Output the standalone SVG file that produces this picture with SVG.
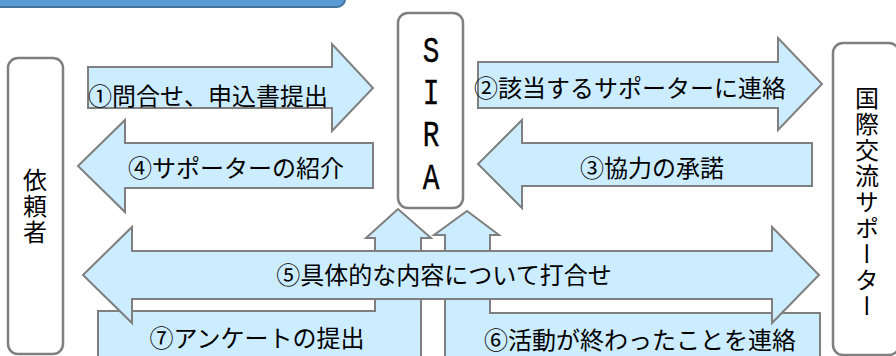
<svg xmlns="http://www.w3.org/2000/svg" width="896" height="356" viewBox="0 0 896 356">
<style>
.node{fill:#ffffff;stroke:#7f7f7f;stroke-width:2.5}
.arrow{fill:#ccecff;stroke:#7f7f7f;stroke-width:2;stroke-linejoin:miter}
.lbl{font-family:"Noto Sans CJK JP","Noto Sans",sans-serif;font-size:24px;font-weight:400;fill:#000000;text-anchor:middle}
.vt{font-family:"Noto Sans CJK JP","Noto Sans",sans-serif;font-size:24px;font-weight:400;fill:#000000;writing-mode:vertical-rl;letter-spacing:2px}
.sira{font-family:"Liberation Mono","Courier New",monospace;font-size:37px;fill:#000000;stroke:#000000;stroke-width:0.4;text-anchor:middle}
</style>
<rect x="-10" y="-20" width="355" height="27" rx="8" fill="#5b9bd5" stroke="#41719c" stroke-width="2"/>
<g id="connectors">
  <g id="c1"><polygon class="arrow" points="88,67 332,67 332,44 373,88 332,131 332,108 88,108"/><text class="lbl" x="208" y="105">①問合せ、申込書提出</text></g>
  <g id="c2"><polygon class="arrow" points="478,62 778,62 778,38 822,84 778,130 778,108 478,108"/><text class="lbl" x="630" y="97">②該当するサポーターに連絡</text></g>
  <g id="c3"><polygon class="arrow" points="812,143 522,143 522,120 478,164 522,208 522,186 812,186"/><text class="lbl" x="652" y="177">③協力の承諾</text></g>
  <g id="c4"><polygon class="arrow" points="373,143 125,143 125,120 78,166 125,212 125,188 373,188"/><text class="lbl" x="236" y="177">④サポーターの紹介</text></g>
  <g id="c7"><polygon class="arrow" points="98,362 98,311 375,311 375,238 366,238 398,209 431,238 421,238 421,362"/><text class="lbl" x="257" y="347">⑦アンケートの提出</text></g>
  <g id="c6"><polygon class="arrow" points="445,362 445,235 434,235 467,211 499,235 490,235 490,313 820,313 820,362"/><text class="lbl" x="640" y="349">⑥活動が終わったことを連絡</text></g>
  <g id="c5"><polygon class="arrow" points="132,251 772,251 772,227 819,275 772,323 772,299 132,299 132,323 83,275 132,227"/><text class="lbl" x="444" y="284">⑤具体的な内容について打合せ</text></g>
</g>
<g id="requester">
  <rect class="node" x="8" y="58" width="55" height="296" rx="10"/>
  <text class="vt" x="35" y="168">依頼者</text>
</g>
<g id="sira">
  <rect class="node" x="398" y="13" width="65" height="195" rx="10"/>
  <g transform="translate(431,0) scale(0.75,1)">
    <text class="sira" x="0" y="62">S</text>
    <text class="sira" x="0" y="104">I</text>
    <text class="sira" x="0" y="146">R</text>
    <text class="sira" x="0" y="189">A</text>
  </g>
</g>
<g id="supporter">
  <rect class="node" x="833" y="43" width="66" height="312" rx="10"/>
  <text class="vt" x="867" y="86">国際交流サポーター</text>
</g>
</svg>
